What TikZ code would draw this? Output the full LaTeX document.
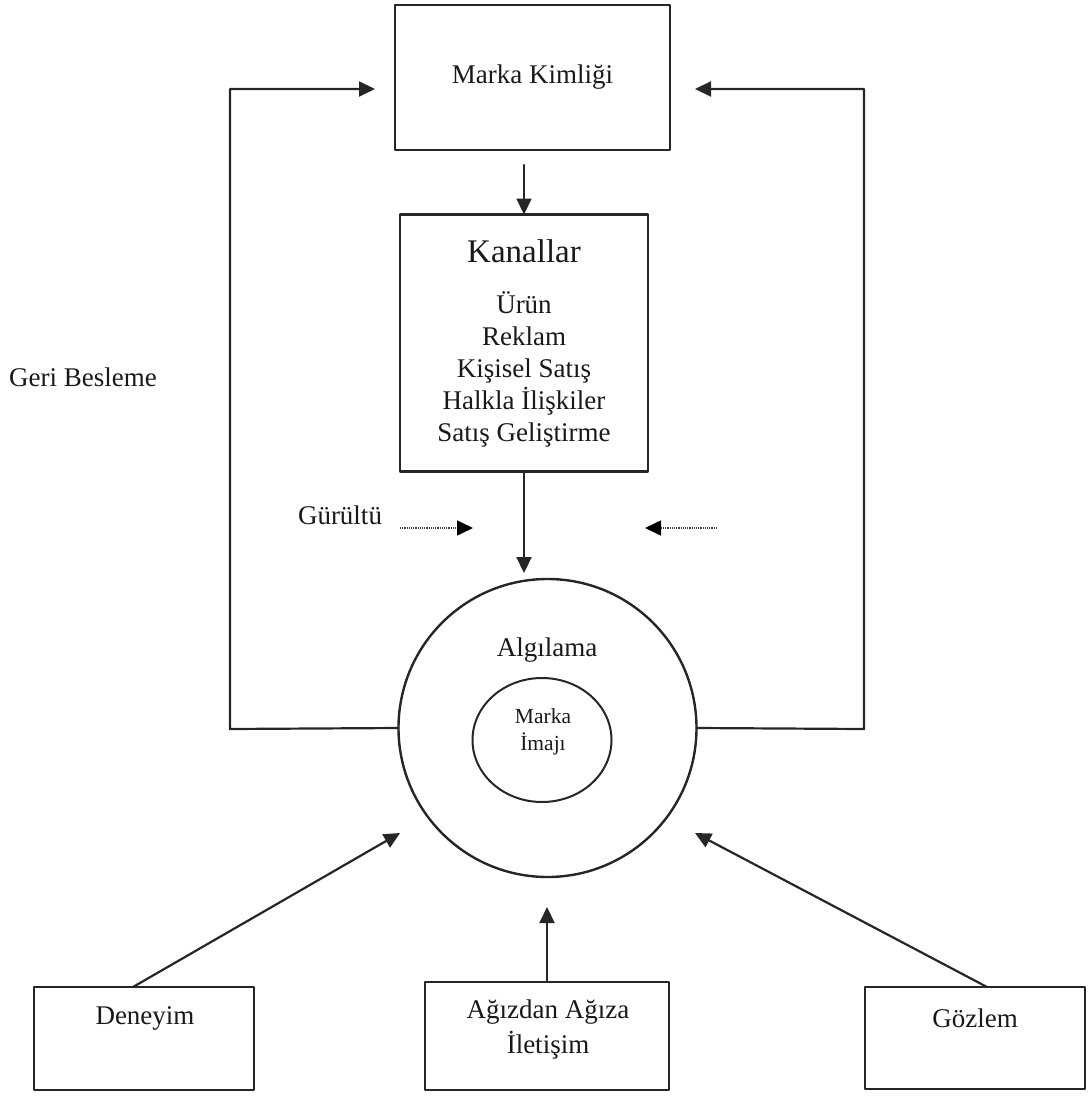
\documentclass[tikz,border=0pt]{standalone}
\usepackage{fontspec}
\setmainfont{Liberation Serif}
\usetikzlibrary{arrows.meta,shapes.geometric}

\begin{document}
\begin{tikzpicture}[x=1pt, y=-1pt, line width=2.2pt, line cap=round, line join=round,
  kutu/.style={draw=black!85, line width=2.4pt, inner sep=0pt, outer sep=0pt},
  yazi/.style={inner sep=0pt, text=black!90, align=center, font=\fontsize{27}{35}\selectfont},
  ok/.style={draw=black!85, line width=2.2pt, -{Triangle[length=16pt,width=15pt]}},
  noktali/.style={draw=black!75, line width=1.6pt, line cap=butt, dash pattern=on 1.2pt off 1pt,
    -{Triangle[length=16pt,width=15pt,color=black]}}]

  %% ════ üst kutular ════
  \node[kutu, yazi, minimum width=275, minimum height=145] (kimlik) at (532.5,77.5) {Marka Kimliği};
  \node[kutu, yazi, minimum width=248, minimum height=257, font=\fontsize{27}{32}\selectfont]
    (kanal) at (524,343) {{\fontsize{33}{40}\selectfont Kanallar}\\[19pt]
      Ürün\\ Reklam\\ Kişisel Satış\\ Halkla İlişkiler\\ Satış Geliştirme};

  %% ════ algılama çemberi ════
  \node[kutu, circle, minimum size=298] (algi) at (547.5,728) {};
  \node[yazi] (algiyazi) at (547,650) {Algılama};
  \node[kutu, ellipse, line width=2pt, minimum width=139, minimum height=124] (imaj) at (542,740) {};
  \node[yazi, font=\fontsize{21.5}{27}\selectfont] (imajyazi) at (543,731.5) {Marka\\İmajı};

  %% ════ alt kutular ════
  \node[kutu, minimum width=220, minimum height=103] (deney) at (144,1038.5) {};
  \node[yazi] (deneyyazi) at (145,1018) {Deneyim};
  \node[kutu, minimum width=244, minimum height=108] (agiz) at (547,1036) {};
  \node[yazi] (agizyazi) at (548,1029.5) {Ağızdan Ağıza\\İletişim};
  \node[kutu, minimum width=220, minimum height=102] (gozlem) at (975,1038) {};
  \node[yazi] (gozlemyazi) at (975,1018) {Gözlem};

  %% ════ serbest yazılar ════
  \node[yazi] (geri) at (83,377) {Geri Besleme};
  \node[yazi] (gurul) at (340,515) {Gürültü};

  %% ════ serbest uçlar ════
  \coordinate (geriSol) at (230,729);
  \coordinate (geriSag) at (864,729);
  \coordinate (gurSolA) at (400,528);
  \coordinate (gurSolB) at (473,528);
  \coordinate (gurSagA) at (717,528);
  \coordinate (gurSagB) at (645,528);
  \coordinate (ucDeney) at (400,833);
  \coordinate (ucAgiz) at (547,907);
  \coordinate (ucGozlem) at (695,833);

  %% ════ oklar ════
  \draw[ok, shorten <=15pt] (kanal.north |- kimlik.south) -- (kanal.north);
  \draw[ok, shorten >=6pt] (kanal.south) -- (kanal.south |- algi.north);
  \draw[ok] (algi.west) -- (geriSol) |- ([shift={(-20,11.5)}]kimlik.west);
  \draw[ok] (algi.east) -- (geriSag) |- ([shift={(25,11.5)}]kimlik.east);
  \draw[noktali] (gurSolA) -- (gurSolB);
  \draw[noktali] (gurSagA) -- (gurSagB);
  \draw[ok] ([xshift=-11pt]deney.north) -- (ucDeney);
  \draw[ok] (agiz.north) -- (ucAgiz);
  \draw[ok] ([xshift=12pt]gozlem.north) -- (ucGozlem);

  % tuval sınırı
  \pgfresetboundingbox
  \path[use as bounding box] (0,0) rectangle (1089,1097);
\end{tikzpicture}
\end{document}
